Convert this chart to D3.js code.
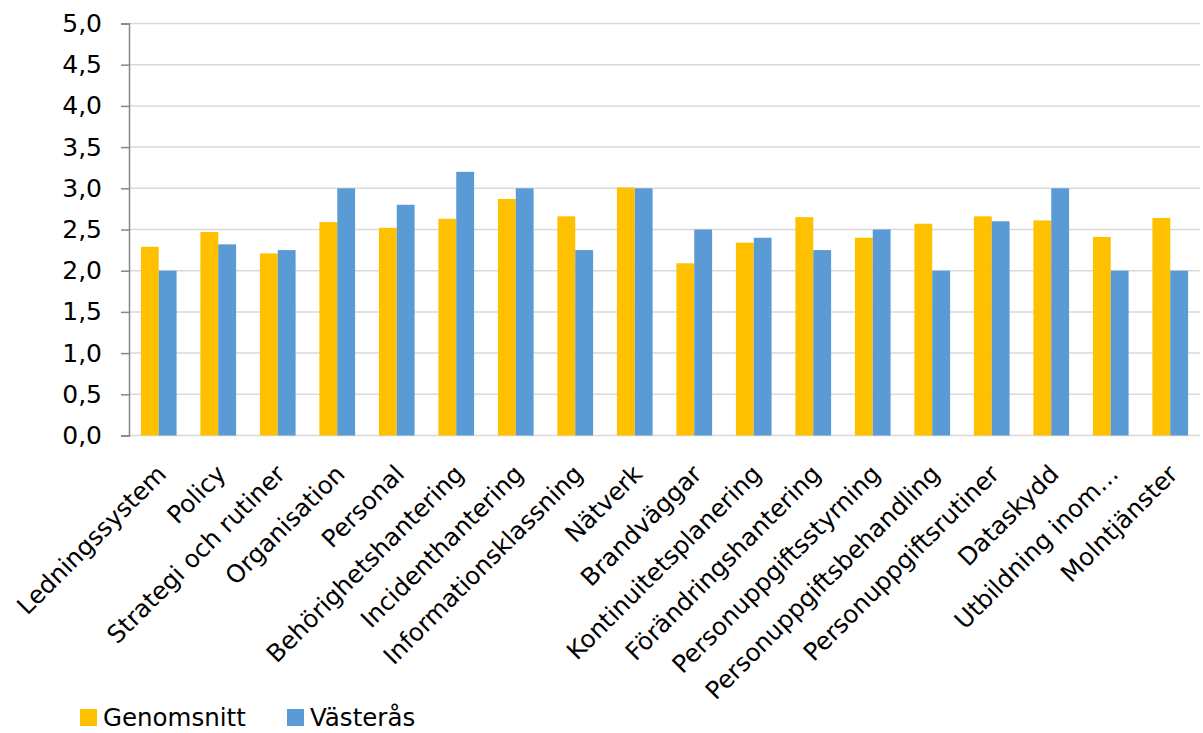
<!DOCTYPE html>
<html>
<head>
<meta charset="utf-8">
<script src="https://cdn.jsdelivr.net/npm/d3@7"></script>
<style>
  body { margin: 0; background: #fff; }
  svg { display: block; font-family: "DejaVu Sans", Verdana, sans-serif; }
  .grid line { stroke: #d9d9d9; stroke-width: 1.5; }
  .cat-label { font-size: 24.5px; fill: #000; }
  .y-label { font-size: 25px; fill: #000; }
  .legend text { font-size: 24.5px; fill: #000; }
</style>
</head>
<body>
<svg width="1203" height="733"></svg>
<script>
const categories = [
  "Ledningssystem", "Policy", "Strategi och rutiner", "Organisation",
  "Personal", "Behörighetshantering", "Incidenthantering",
  "Informationsklassning", "Nätverk", "Brandväggar",
  "Kontinuitetsplanering", "Förändringshantering",
  "Personuppgiftsstyrning", "Personuppgiftsbehandling",
  "Personuppgiftsrutiner", "Dataskydd", "Utbildning inom…", "Molntjänster"
];
const genomsnitt = [2.29, 2.47, 2.21, 2.59, 2.52, 2.63, 2.87, 2.66, 3.01,
  2.09, 2.34, 2.65, 2.40, 2.57, 2.66, 2.61, 2.41, 2.64];
const vasteras = [2.0, 2.32, 2.25, 3.0, 2.8, 3.2, 3.0, 2.25, 3.0,
  2.5, 2.4, 2.25, 2.5, 2.0, 2.6, 3.0, 2.0, 2.0];
const seriesNames = ["Genomsnitt", "Västerås"];
const colors = ["#FFC000", "#5B9BD5"];
const yTicks = [0, 0.5, 1, 1.5, 2, 2.5, 3, 3.5, 4, 4.5, 5];

(function () {
  const svg = d3.select("svg");
  const plotLeft = 129, plotRight = 1200, plotTop = 23.5, plotBottom = 435.5;

  const x = d3.scaleBand()
    .domain(categories)
    .range([plotLeft, plotRight])
    .paddingInner(0.4)
    .paddingOuter(0.2);

  const xs = d3.scaleBand()
    .domain(seriesNames)
    .range([0, x.bandwidth()]);

  const y = d3.scaleLinear().domain([0, 5]).range([plotBottom, plotTop]);

  const fmt = (d) => d3.format(".1f")(d).replace(".", ",");

  // gridlines
  svg.append("g")
    .attr("class", "grid")
    .selectAll("line")
    .data(yTicks)
    .join("line")
    .attr("x1", plotLeft)
    .attr("x2", plotRight)
    .attr("y1", (d) => y(d))
    .attr("y2", (d) => y(d));

  // bars
  const rows = categories.map((c, i) => ({
    cat: c,
    vals: [genomsnitt[i], vasteras[i]],
  }));

  const groups = svg.append("g")
    .selectAll("g")
    .data(rows)
    .join("g")
    .attr("transform", (d) => `translate(${x(d.cat)},0)`);

  groups.selectAll("rect")
    .data((d) => d.vals.map((v, k) => ({ name: seriesNames[k], v, k })))
    .join("rect")
    .attr("x", (d) => xs(d.name))
    .attr("y", (d) => y(d.v))
    .attr("width", xs.bandwidth())
    .attr("height", (d) => y(0) - y(d.v))
    .attr("fill", (d) => colors[d.k]);

  // y axis
  const yAxis = d3.axisLeft(y)
    .tickValues(yTicks)
    .tickFormat(fmt)
    .tickSize(8)
    .tickPadding(19);

  const yg = svg.append("g")
    .attr("transform", `translate(${plotLeft},0)`)
    .call(yAxis);
  yg.attr("font-size", null).attr("font-family", null);
  yg.select(".domain").attr("stroke", "#868686").attr("stroke-width", 1.5);
  yg.selectAll(".tick line").attr("stroke", "#868686").attr("stroke-width", 1.5);
  yg.selectAll(".tick text").attr("class", "y-label");

  // category labels, rotated -45
  svg.append("g")
    .selectAll("text")
    .data(categories)
    .join("text")
    .attr("class", "cat-label")
    .attr("text-anchor", "end")
    .attr("transform", (d) =>
      `translate(${x(d) + x.bandwidth() / 2 + 9},${plotBottom + 40}) rotate(-45)`)
    .text((d) => d);

  // legend
  const legend = svg.append("g").attr("class", "legend");
  const legendX = [80, 287];
  seriesNames.forEach((name, k) => {
    legend.append("rect")
      .attr("x", legendX[k])
      .attr("y", 709)
      .attr("width", 17)
      .attr("height", 17)
      .attr("fill", colors[k]);
    legend.append("text")
      .attr("x", legendX[k] + 23)
      .attr("y", 726)
      .text(name);
  });
})();
</script>
</body>
</html>
